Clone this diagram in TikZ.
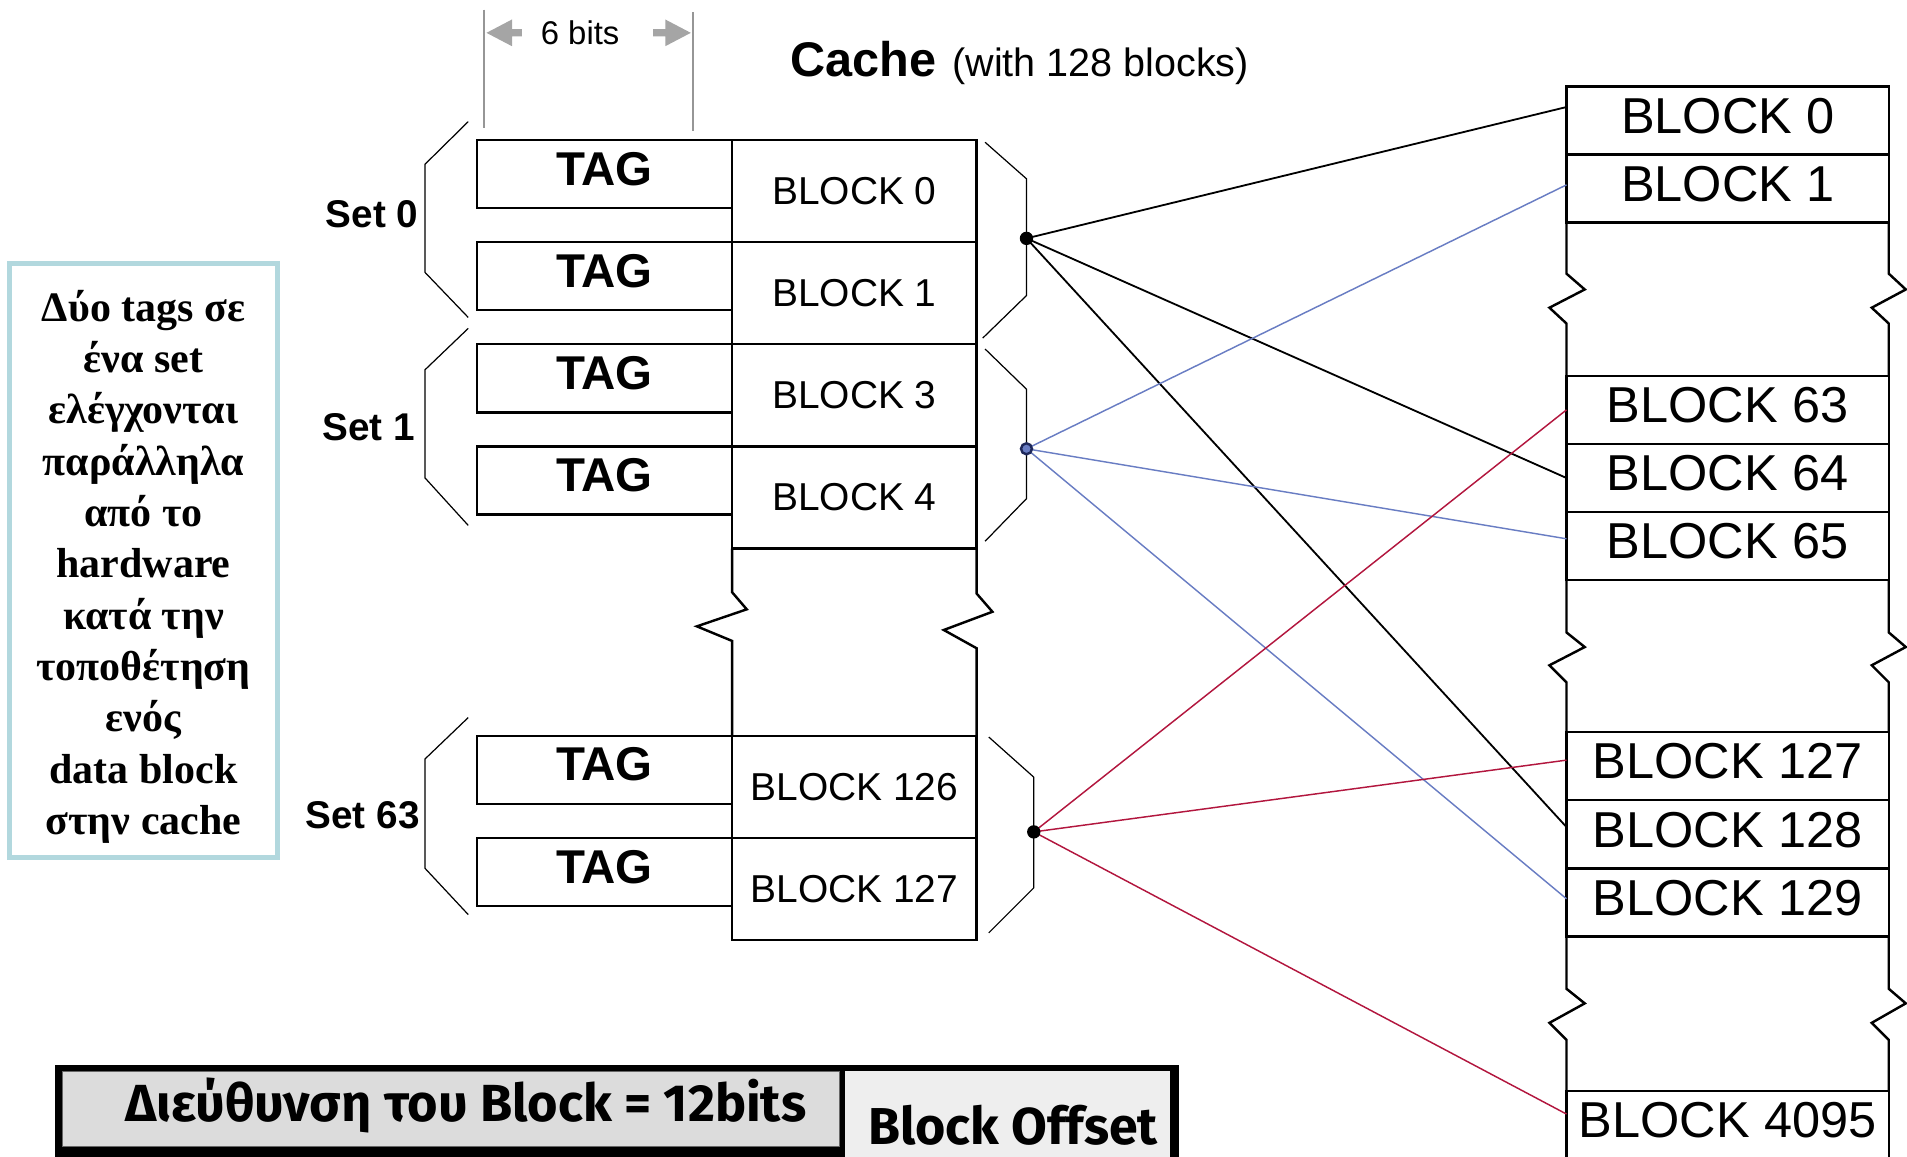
\documentclass[tikz,border=0pt]{standalone}
\usepackage{fontspec}
\setmainfont{Liberation Sans}
\newfontfamily\notefont{Liberation Serif}
\newfontfamily\addrfont{Fira Sans}
\usetikzlibrary{arrows.meta,calc}

\definecolor{linkblue}{RGB}{105,125,195}
\definecolor{linkred}{RGB}{178,22,62}
\definecolor{notecol}{RGB}{178,216,222}
\definecolor{dimgray}{RGB}{150,150,150}
\definecolor{arrowgray}{RGB}{165,165,165}
\definecolor{addrgray}{RGB}{220,220,220}
\definecolor{offsgray}{RGB}{238,238,238}
\definecolor{dotnavy}{RGB}{30,40,90}

\begin{document}
\begin{tikzpicture}[x=1pt,y=-1pt,
  every node/.style={inner sep=0pt, outer sep=0pt},
  tagbox/.style={draw, line width=2pt, minimum width=210pt, minimum height=56pt,
    font=\fontsize{39}{39}\selectfont\bfseries, text depth=9pt},
  cblock/.style={draw, line width=2pt, minimum width=201pt, minimum height=84pt,
    font=\fontsize{32}{32}\selectfont},
  mblock/.style={draw, line width=2pt, minimum width=265pt, minimum height=56pt,
    font=\fontsize{41.5}{41.5}\selectfont, text depth=8pt},
  colside/.style={line width=2pt, line join=miter},
  brace/.style={line width=1pt, line join=miter},
  setlabel/.style={anchor=east, font=\fontsize{31.8}{31.8}\selectfont\bfseries},
  dot/.style={circle, fill=black, minimum size=11pt},
  linkk/.style={line width=1.5pt, black},
  linkb/.style={line width=1.2pt, linkblue},
  linkr/.style={line width=1.2pt, linkred},
]
\useasboundingbox (0,0) rectangle (1568,951);

% ---------- tag width dimension ----------
\draw[dimgray, line width=1.5pt] (398,8) -- (398,105);
\draw[dimgray, line width=1.5pt] (570,10) -- (570,108);
\fill[arrowgray] (400,27) -- (421,16) -- (421,24) -- (429,24) -- (429,30) -- (421,30) -- (421,38) -- cycle;
\fill[arrowgray] (568,27) -- (547,16) -- (547,24) -- (537,24) -- (537,30) -- (547,30) -- (547,38) -- cycle;
\node (bits) at (477,27) {\fontsize{27}{27}\selectfont 6 bits};

% ---------- title ----------
\node (title) [anchor=base west] at (650,63)
  {{\fontsize{40}{40}\selectfont\bfseries Cache}\hspace{13pt}{\fontsize{32.5}{32.5}\selectfont (with 128 blocks)}};

% ---------- cache: tags and blocks ----------
\node[tagbox] (t0)   at (497,143) {TAG};
\node[tagbox] (t1)   at (497,227) {TAG};
\node[tagbox] (t3)   at (497,311) {TAG};
\node[tagbox] (t4)   at (497,395) {TAG};
\node[tagbox] (t126) at (497,633) {TAG};
\node[tagbox] (t127) at (497,717) {TAG};

\node[cblock] (c0)   at (702.5,157) {BLOCK 0};
\node[cblock] (c1)   at (702.5,241) {BLOCK 1};
\node[cblock] (c3)   at (702.5,325) {BLOCK 3};
\node[cblock] (c4)   at (702.5,409) {BLOCK 4};
\node[cblock] (c126) at (702.5,647) {BLOCK 126};
\node[cblock] (c127) at (702.5,731) {BLOCK 127};

% broken sides of the cache column
\draw[colside] (602,451) -- (602,487) -- (614,501) -- (573,515) -- (602,527) -- (602,605);
\draw[colside] (803,451) -- (803,488) -- (816,503) -- (776,518) -- (803,533) -- (803,605);

% ---------- set braces ----------
\draw[brace] (385,100) -- (349.5,135) -- (349.5,224) -- (385,261);
\draw[brace] (385,270) -- (349.5,304) -- (349.5,393) -- (385,432);
\draw[brace] (385,590) -- (349.5,624) -- (349.5,714) -- (385,752);
\draw[brace] (810,117) -- (844,147) -- (844,243) -- (808,278);
\draw[brace] (810,287) -- (844,320) -- (844,410) -- (810,445);
\draw[brace] (813,606) -- (850,639) -- (850,730) -- (813,767);

\node[setlabel] (s0)  at (344,176) {Set 0};
\node[setlabel] (s1)  at (341,351) {Set 1};
\node[setlabel] (s63) at (345,670) {Set 63};

% ---------- main memory ----------
\node[mblock] (m0)    at (1420.5,99)  {BLOCK 0};
\node[mblock] (m1)    at (1420.5,155) {BLOCK 1};
\node[mblock] (m63)   at (1420.5,337) {BLOCK 63};
\node[mblock] (m64)   at (1420.5,393) {BLOCK 64};
\node[mblock] (m65)   at (1420.5,449) {BLOCK 65};
\node[mblock] (m127)  at (1420.5,630) {BLOCK 127};
\node[mblock] (m128)  at (1420.5,686) {BLOCK 128};
\node[mblock] (m129)  at (1420.5,742) {BLOCK 129};
\node[mblock] (m4095) at (1420.5,925) {BLOCK 4095};

\draw[colside] (1288,183) -- (1288,225) -- (1303,238) -- (1274,253) -- (1288,266) -- (1288,309);
\draw[colside] (1553,183) -- (1553,225) -- (1567,238) -- (1539,253) -- (1553,266) -- (1553,309);
\draw[colside] (1288,477) -- (1288,520) -- (1303,532) -- (1274,547) -- (1288,561) -- (1288,602);
\draw[colside] (1553,477) -- (1553,520) -- (1567,532) -- (1539,547) -- (1553,561) -- (1553,602);
\draw[colside] (1288,770) -- (1288,813) -- (1303,825) -- (1274,841) -- (1288,855) -- (1288,897);
\draw[colside] (1553,770) -- (1553,813) -- (1567,825) -- (1539,841) -- (1553,855) -- (1553,897);

% ---------- set-to-memory mapping ----------
\coordinate (d0)  at (844,196);
\coordinate (d1)  at (844,369);
\coordinate (d63) at (850,684);

\draw[linkk] (d0) -- ([yshift=11pt]m0.west);
\draw[linkk] (d0) -- (m64.west);
\draw[linkk] (d0) -- ([yshift=6pt]m128.west);

\draw[linkb] (d1) -- ([yshift=3pt]m1.west);
\draw[linkb] (d1) -- ([yshift=6pt]m65.west);
\draw[linkb] (d1) -- ([yshift=3pt]m129.west);

\draw[linkr] (d63) -- (m63.west);
\draw[linkr] (d63) -- ([yshift=5pt]m127.west);
\draw[linkr] (d63) -- ([yshift=9pt]m4095.west);

\node[dot] (n0) at (d0) {};
\node[dot, fill=linkblue, draw=dotnavy, line width=2pt, minimum size=9pt] (n1) at (d1) {};
\node[dot] (n63) at (d63) {};

% ---------- note ----------
\node (note) [draw=notecol, line width=4pt, minimum width=220pt, minimum height=488pt] at (118,461) {};
\node (notetext) [align=center, font=\notefont\bfseries\fontsize{34.5}{42.2}\selectfont] at (118,466)
  {Δύο tags σε\\ένα set\\ελέγχονται\\παράλληλα\\από το\\hardware\\κατά την\\τοποθέτηση\\ενός\\data block\\στην cache};

% ---------- address format ----------
\fill[black] (45,876) rectangle (969,960);
\node (addr) [fill=addrgray, draw=black!60, line width=0.8pt, minimum width=639pt, minimum height=62pt] at (370.5,912) {};
\node (offs) [fill=offsgray, minimum width=267pt, minimum height=80pt] at (828.5,921) {};
\node (addrtext) at (383,909) {\addrfont\bfseries\resizebox{560pt}{!}{Διεύθυνση του Block = 12bits}};
\node (offstext) at (833,925) {\addrfont\bfseries\resizebox{238pt}{!}{Block Offset}};

\end{tikzpicture}
\end{document}
